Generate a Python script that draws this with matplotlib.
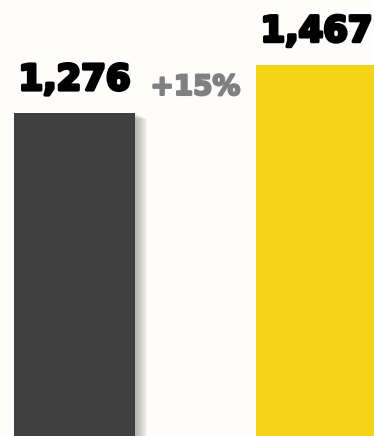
import matplotlib.pyplot as plt
import matplotlib.patheffects as pe

categories = ["Before", "After"]
values = [1276, 1467]
value_labels = ["1,276", "1,467"]
change_label = "+15%"
bar_colors = ["#404040", "#f4d416"]

fig = plt.figure(figsize=(3.74, 4.36), dpi=100)
ax = fig.add_axes([0, 0, 1, 1])
fig.patch.set_facecolor("#fefdfb")
ax.set_facecolor("#fefdfb")

x = list(range(len(categories)))
bars = ax.bar(x, values, width=0.5, color=bar_colors, zorder=2)

# soft shadow on the dark bar
shadow = [pe.SimplePatchShadow(offset=(i, -0.5 * i), shadow_rgbFace="black", alpha=0.035)
          for i in range(1, 10)]
bars[0].set_path_effects(shadow + [pe.Normal()])

heavy = [pe.withStroke(linewidth=2.4, foreground="black")]
for xi, v, lab in zip(x, values, value_labels):
    ax.annotate(lab, (xi, v), xytext=(0, 23), textcoords="offset pixels",
                ha="center", va="baseline", fontsize=25.5, fontweight="bold",
                family="DejaVu Sans", color="black", path_effects=heavy, zorder=3)

ax.annotate(change_label, (0.5, values[0]), xytext=(0, 18), textcoords="offset pixels",
            ha="center", va="baseline", fontsize=20, fontweight="bold",
            family="DejaVu Sans", color="#808080",
            path_effects=[pe.withStroke(linewidth=1.6, foreground="#808080")], zorder=3)

ax.set_xlim(-0.308, 1.238)
ax.set_ylim(0, 1722)
ax.axis("off")

fig.savefig("out.png", dpi=100, facecolor=fig.get_facecolor())
